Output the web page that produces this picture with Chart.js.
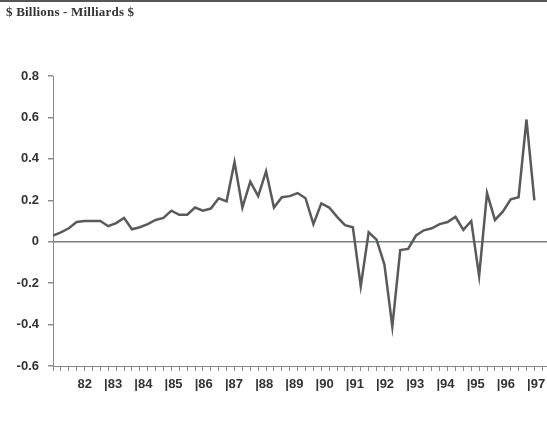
<!DOCTYPE html>
<html>
<head>
<meta charset="utf-8">
<script src="https://cdn.jsdelivr.net/npm/chart.js@4.4.1/dist/chart.umd.min.js"></script>
<style>
  body { margin: 0; background: #fff; }
  #wrap { position: relative; width: 547px; height: 426px; overflow: hidden; }
  #rule { position: absolute; left: 0; top: 0; width: 547px; height: 2px; background: #555; }
  #title { position: absolute; left: 6px; top: 4px; font: bold 13px "Liberation Serif", serif; letter-spacing: 0.2px; color: #333; }
  #myChart { position: absolute; left: 0; top: 0; }
</style>
</head>
<body>
<div id="wrap">
  <canvas id="myChart" width="547" height="426"></canvas>
  <div id="rule"></div>
  <div id="title">$ Billions - Milliards $</div>
</div>
<script>
// quarterly series, starts 1982 Q2
const years = ['82', '83', '84', '85', '86', '87', '88', '89', '90', '91', '92', '93', '94', '95', '96', '97'];
const values = [
  0.03, 0.045, 0.065, 0.095, 0.10, 0.10, 0.10, 0.075, 0.09, 0.115,
  0.06, 0.07, 0.085, 0.105, 0.115, 0.15, 0.13, 0.13, 0.165, 0.15,
  0.16, 0.21, 0.195, 0.385, 0.165, 0.29, 0.22, 0.34, 0.165, 0.215,
  0.22, 0.235, 0.21, 0.085, 0.185, 0.165, 0.12, 0.08, 0.07, -0.215,
  0.045, 0.01, -0.11, -0.41, -0.04, -0.035, 0.03, 0.055, 0.065, 0.085,
  0.095, 0.12, 0.057, 0.10, -0.165, 0.235, 0.105, 0.145, 0.205, 0.215,
  0.59, 0.20
];
const yTicks = [0.8, 0.6, 0.4, 0.2, 0, -0.2, -0.4, -0.6];

const points = values.map(function (v, i) { return { x: i, y: v }; });

const labelFont = { family: 'Liberation Sans', size: 13, weight: 'bold' };
const ctx = document.getElementById('myChart');

function noSidePadding(s) {
  s.paddingLeft = 0;
  s.paddingRight = 0;
}

new Chart(ctx, {
  type: 'line',
  data: {
    datasets: [{
      data: points,
      borderColor: '#5a5a5a',
      borderWidth: 2.5,
      pointRadius: 0,
      tension: 0
    }]
  },
  options: {
    responsive: false,
    animation: false,
    layout: { padding: { top: 76, left: 0, right: 0, bottom: 0 } },
    plugins: { legend: { display: false }, tooltip: { enabled: false } },
    scales: {
      // quarter tick marks
      x: {
        type: 'linear',
        weight: 0,
        min: 0,
        max: 62.6,
        afterFit: function (s) { s.height = 6; noSidePadding(s); },
        afterBuildTicks: function (s) {
          let t = [];
          for (let q = 0; q <= 62; q++) t.push({ value: q });
          s.ticks = t;
        },
        grid: { drawOnChartArea: false, tickLength: 5, tickColor: '#8a8a8a' },
        border: { color: '#8a8a8a', width: 1 },
        ticks: { autoSkip: false, maxRotation: 0, callback: function () { return ''; } }
      },
      // year labels
      years: {
        type: 'linear',
        position: 'bottom',
        weight: 1,
        min: 1981.31,
        max: 1997.66,
        afterFit: function (s) { s.height = 54; noSidePadding(s); },
        afterBuildTicks: function (s) {
          s.ticks = years.map(function (y) { return { value: 1900 + Number(y) }; });
        },
        grid: { display: false },
        border: { display: false },
        ticks: {
          autoSkip: false,
          maxRotation: 0,
          align: 'start',
          padding: -3,
          color: '#333',
          font: labelFont,
          callback: function (v) {
            const yy = String(v - 1900);
            return yy === years[0] ? ' ' + yy : '|' + yy;
          }
        }
      },
      y: {
        min: -0.6,
        max: 0.8,
        afterFit: function (s) { s.width = 53; },
        afterBuildTicks: function (s) {
          s.ticks = yTicks.map(function (v) { return { value: v }; });
        },
        grid: {
          color: function (c) { return c.tick && c.tick.value === 0 ? '#76827a' : 'rgba(0,0,0,0)'; },
          lineWidth: 1.5,
          tickColor: '#8a8a8a',
          tickLength: 5
        },
        border: { color: '#8a8a8a', width: 1 },
        ticks: {
          padding: 9,
          color: '#333',
          font: labelFont,
          callback: function (v) { return String(Math.round(v * 10) / 10); }
        }
      }
    }
  }
});
</script>
</body>
</html>
